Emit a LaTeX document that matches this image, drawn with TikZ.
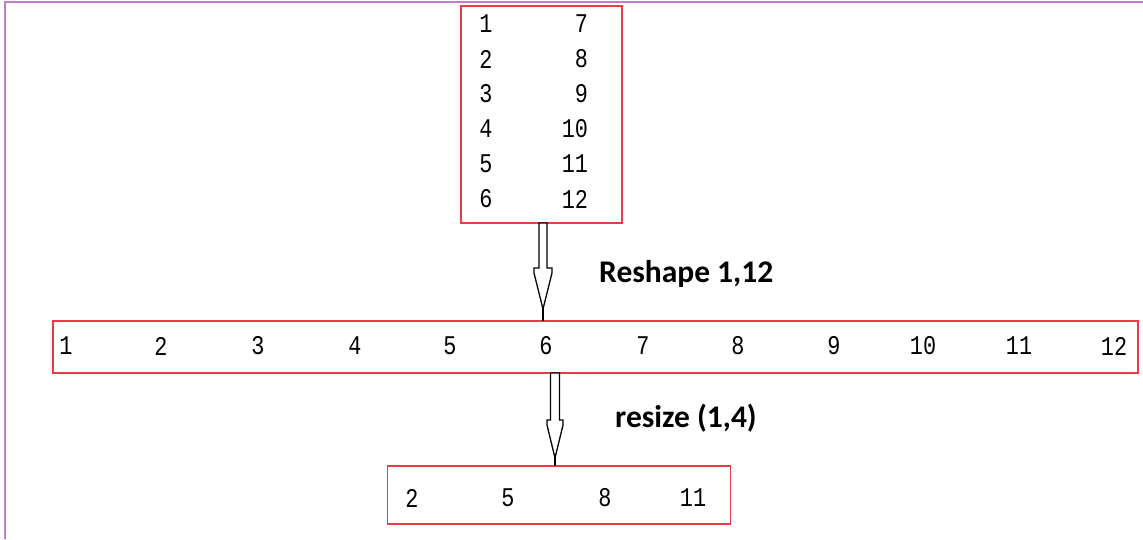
\documentclass[tikz,border=0pt]{standalone}
\usepackage{fontspec}
\newfontfamily\monofont{Liberation Mono}
\newfontfamily\labelfont{Carlito}
\definecolor{framepurple}{RGB}{190,125,205}
\definecolor{boxred}{RGB}{235,60,70}
\newcommand{\tallnum}[1]{\scalebox{0.97}[1.2]{#1}}
\begin{document}
\begin{tikzpicture}[x=1pt,y=-1pt,
  redbox/.style={draw=boxred,line width=1.4pt,inner sep=0pt,outer sep=0pt},
  num/.style={inner sep=0pt,outer sep=0pt,font=\monofont\fontsize{22.5}{24}\selectfont},
  numr/.style={num,anchor=east},
  lbl/.style={inner sep=0pt,anchor=base west,font=\labelfont\bfseries\fontsize{31.5}{36}\selectfont},
  hollow/.style={draw=black,line width=1.3pt,fill=white,line join=miter},
  stem/.style={draw=black,line width=2pt}]
\useasboundingbox (0,0) rectangle (1143,539);
% frame
\draw[framepurple,line width=2pt] (1143,2) -- (5,2) -- (5,539);
% boxes
\node[redbox,minimum width=161pt,minimum height=217pt] (top) at (541.5,114.5) {};
\node[redbox,minimum width=1085pt,minimum height=52pt] (mid) at (595.5,347) {};
\node[redbox,minimum width=343pt,minimum height=58pt] (bot) at (559,495) {};
% top box numbers
\node[num] (t1) at (486,24) {\tallnum{1}};
\node[num] (t2) at (486,59) {\tallnum{2}};
\node[num] (t3) at (486,94) {\tallnum{3}};
\node[num] (t4) at (486,129) {\tallnum{4}};
\node[num] (t5) at (486,164) {\tallnum{5}};
\node[num] (t6) at (486,199) {\tallnum{6}};
\node[numr] (t7) at (588,24) {\tallnum{7}};
\node[numr] (t8) at (588,59) {\tallnum{8}};
\node[numr] (t9) at (588,94) {\tallnum{9}};
\node[numr] (t10) at (588,129) {\tallnum{10}};
\node[numr] (t11) at (588,164) {\tallnum{11}};
\node[numr] (t12) at (588,199) {\tallnum{12}};
% middle row
\node[num] (m1) at (66,346) {\tallnum{1}};
\node[num] (m2) at (161,346) {\tallnum{2}};
\node[num] (m3) at (258,346) {\tallnum{3}};
\node[num] (m4) at (355,346) {\tallnum{4}};
\node[num] (m5) at (450,346) {\tallnum{5}};
\node[num] (m6) at (546,346) {\tallnum{6}};
\node[num] (m7) at (643,346) {\tallnum{7}};
\node[num] (m8) at (738,346) {\tallnum{8}};
\node[num] (m9) at (834,346) {\tallnum{9}};
\node[num] (m10) at (923,346) {\tallnum{10}};
\node[num] (m11) at (1019,346) {\tallnum{11}};
\node[num] (m12) at (1114,346) {\tallnum{12}};
% bottom row
\node[num] (b1) at (412,498) {\tallnum{2}};
\node[num] (b2) at (508,498) {\tallnum{5}};
\node[num] (b3) at (605,498) {\tallnum{8}};
\node[num] (b4) at (693,498) {\tallnum{11}};
% labels
\node[lbl] (l1) at (599,282) {Reshape 1,12};
\node[lbl] (l2) at (615,427) {resize (1,4)};
% arrow 1
\coordinate (x1) at (543,0);
\coordinate (a1s) at (top.south -| x1);
\coordinate (a1e) at (mid.north -| x1);
\draw[stem] (a1e) -- ++(0,-14);
\draw[hollow] (a1s) ++(-4,0) -- ++(0,45) -- ++(-5,0) -- ++(0,5) -- ++(9,36) -- ++(9,-36) -- ++(0,-5) -- ++(-5,0) -- ++(0,-45) -- cycle;
% arrow 2
\coordinate (x2) at (555,0);
\coordinate (a2s) at (mid.south -| x2);
\coordinate (a2e) at (bot.north -| x2);
\draw[stem] (a2e) -- ++(0,-12);
\draw[hollow] (a2s) ++(-4.5,0) -- ++(0,47) -- ++(-3.5,0) -- ++(0,5) -- ++(8,33) -- ++(8,-33) -- ++(0,-5) -- ++(-3.5,0) -- ++(0,-47) -- cycle;
\end{tikzpicture}
\end{document}
